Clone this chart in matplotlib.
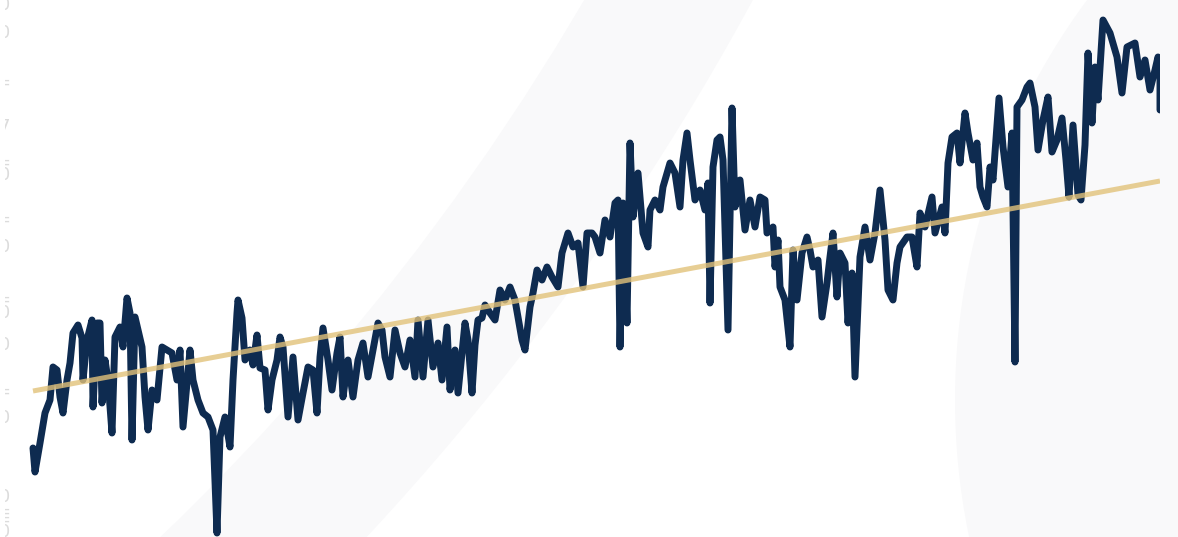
import matplotlib
matplotlib.use("Agg")
import matplotlib.pyplot as plt
from matplotlib.patches import Wedge, Circle
from matplotlib.transforms import Bbox, TransformedBbox

# ---- data (x position along time axis, series value) ----
t = [33, 35, 40, 45, 50, 53, 57, 60, 63, 67, 70, 73, 78, 82, 83, 87, 92, 93, 97, 100,
     102, 105, 108, 112, 115, 120, 123, 127, 130, 132, 135, 138, 142, 145, 148, 152, 157, 162, 167, 172,
     177, 180, 183, 190, 193, 198, 203, 208, 213, 217, 220, 225, 230, 233, 237, 238, 242, 245, 250, 253,
     257, 260, 265, 268, 272, 277, 280, 283, 288, 293, 298, 303, 308, 313, 317, 320, 323, 328, 332, 337,
     340, 343, 348, 353, 358, 363, 368, 373, 378, 382, 385, 390, 395, 400, 405, 410, 415, 418, 423, 428,
     433, 438, 442, 447, 450, 455, 458, 462, 465, 468, 472, 475, 478, 482, 485, 490, 495, 500, 505, 510,
     515, 522, 525, 530, 533, 537, 542, 547, 552, 558, 562, 568, 573, 578, 583, 587, 592, 595, 600, 605,
     610, 615, 618, 620, 623, 627, 630, 633, 638, 643, 648, 650, 655, 660, 663, 670, 675, 680, 683, 687,
     690, 695, 700, 705, 708, 710, 713, 717, 720, 723, 728, 732, 735, 740, 745, 750, 755, 760, 765, 767,
     773, 775, 778, 780, 785, 790, 793, 797, 802, 807, 810, 813, 818, 822, 827, 830, 833, 837, 840, 845,
     848, 852, 855, 860, 865, 870, 875, 880, 885, 888, 893, 897, 900, 907, 912, 917, 920, 925, 932, 935,
     942, 945, 948, 952, 957, 960, 965, 968, 973, 977, 980, 983, 987, 990, 993, 999, 1003, 1008, 1012, 1015,
     1017, 1022, 1027, 1030, 1035, 1038, 1043, 1048, 1052, 1057, 1062, 1066, 1069, 1073, 1078, 1081, 1085, 1088, 1092, 1095,
     1098, 1103, 1110, 1117, 1122, 1127, 1135, 1140, 1145, 1150, 1155, 1158, 1160, 1160]

value = [89, 65, 94, 124, 137, 170, 167, 140, 124, 157, 174, 204, 212, 199, 157, 197, 217, 130, 214, 214,
         134, 177, 157, 104, 200, 210, 190, 239, 224, 97, 220, 207, 190, 140, 107, 147, 137, 190, 187, 184,
         157, 187, 110, 187, 157, 137, 124, 120, 107, 4, 100, 120, 90, 157, 224, 237, 219, 177, 187, 172,
         202, 169, 167, 127, 157, 177, 200, 190, 120, 180, 117, 144, 170, 167, 124, 180, 209, 177, 147, 184,
         200, 140, 177, 140, 177, 194, 160, 187, 214, 207, 180, 160, 207, 184, 170, 197, 160, 217, 160, 217,
         170, 194, 157, 210, 147, 187, 144, 184, 214, 197, 144, 192, 217, 219, 232, 224, 217, 247, 237, 250,
         237, 197, 187, 230, 244, 267, 257, 270, 260, 250, 284, 304, 290, 294, 250, 304, 304, 300, 284, 317,
         300, 334, 337, 190, 334, 214, 394, 320, 364, 304, 290, 327, 337, 327, 350, 374, 364, 330, 377, 404,
         377, 337, 347, 327, 354, 234, 370, 397, 400, 377, 207, 429, 330, 357, 307, 337, 310, 340, 337, 304,
         310, 270, 297, 250, 237, 190, 287, 237, 284, 300, 287, 270, 277, 220, 254, 280, 304, 240, 284, 274,
         214, 264, 160, 280, 310, 277, 304, 347, 297, 247, 237, 274, 290, 300, 300, 270, 324, 310, 340, 304,
         330, 304, 374, 400, 404, 374, 424, 404, 377, 394, 350, 340, 330, 370, 357, 439, 390, 350, 404, 175,
         430, 437, 450, 454, 430, 387, 417, 440, 385, 397, 419, 377, 340, 412, 342, 337, 392, 484, 414, 470,
         437, 517, 504, 480, 444, 490, 494, 460, 477, 447, 467, 480, 470, 427]

trend_t = [33, 1160]
trend_value = [146, 356]

# faint axis-label fragments, mostly cut off at the left edge (label text, height)
label_text = ["0", "0", "=", "7", "=", "0", "=", "0", "=", "0", "0", "=", "0", "0", "=", "=", "0"]
label_pos = [532, 504, 454, 410, 374, 362, 317, 290, 237, 224, 192, 145, 119, 40, 25, 17, 5]

W, H = 1178, 537
fig = plt.figure(figsize=(W / 100, H / 100), dpi=100)
fig.patch.set_facecolor("white")

grey = "#f9f9fa"
# decorative background shapes (in inches, via dpi_scale_trans)
ring = Wedge((-1552 / 100, (H + 1250) / 100), 26.22, 0, 360, width=1.47,
             facecolor=grey, edgecolor="none", transform=fig.dpi_scale_trans, zorder=-5)
disc = Circle((1627 / 100, (H - 400) / 100), 6.72,
              facecolor=grey, edgecolor="none", transform=fig.dpi_scale_trans, zorder=-5)
fig.add_artist(ring)
fig.add_artist(disc)

ax = fig.add_axes([0, 0, 1160 / W, 1])
ax.set_facecolor("none")
ax.set_xlim(0, 1160)
ax.set_ylim(0, 537)
ax.axis("off")

ax.plot(t, value, color="#0e2b50", lw=5.0, solid_joinstyle="round",
        solid_capstyle="round", zorder=2)
ax.plot(trend_t, trend_value, color="#e2c27a", lw=3.6, alpha=0.8,
        solid_capstyle="butt", zorder=3)

clip = TransformedBbox(Bbox([[0.05, 0.0], [0.2, H / 100]]), fig.dpi_scale_trans)
for txt, yv in zip(label_text, label_pos):
    tx = fig.text(10 / W, yv / H, txt, ha="right", va="center", fontsize=13,
                  color="#dcdcdc")
    tx.set_clip_box(clip)
    tx.set_clip_on(True)

fig.savefig("out.png", dpi=100)
